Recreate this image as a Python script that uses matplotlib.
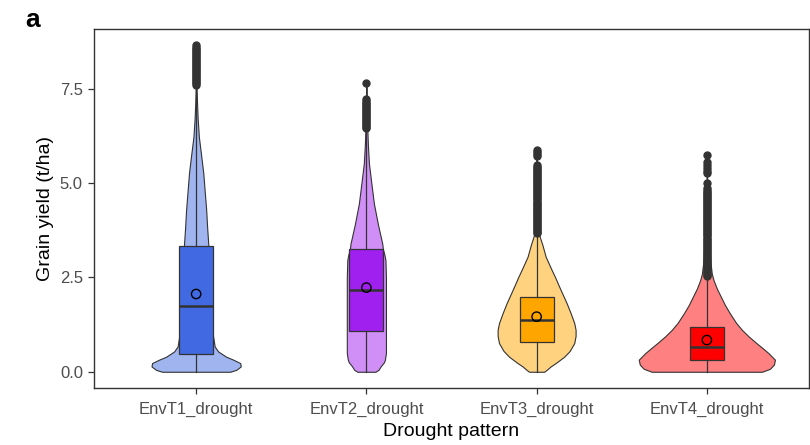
import matplotlib
matplotlib.use("Agg")
import matplotlib.pyplot as plt
import numpy as np

plt.rcParams['font.family'] = ['Liberation Sans', 'DejaVu Sans']

# ---------------- data ----------------
categories = ["EnvT1_drought", "EnvT2_drought", "EnvT3_drought", "EnvT4_drought"]
box_colors = ["#4169E1", "#A020F0", "#FFA500", "#FF0000"]
violin_colors = ["#A0B4F0", "#CF8FF7", "#FFD280", "#FF8080"]

# box statistics (t/ha)
q1 = [0.47, 1.07, 0.80, 0.30]
median = [1.74, 2.16, 1.36, 0.66]
q3 = [3.33, 3.25, 1.99, 1.18]
whisker_low = [0.0, 0.0, 0.0, 0.0]
whisker_high = [7.55, 6.38, 3.62, 2.50]
means = [2.06, 2.23, 1.46, 0.84]

# outliers
outliers_t1 = [7.60, 7.64, 7.68, 7.72, 7.76, 7.80, 7.84, 7.88, 7.92, 7.96, 8.00,
               8.04, 8.08, 8.12, 8.16, 8.20, 8.24, 8.28, 8.32, 8.36, 8.40, 8.44,
               8.48, 8.52, 8.56, 8.60, 8.65]
outliers_t2 = [6.45, 6.49, 6.53, 6.57, 6.61, 6.65, 6.69, 6.73, 6.77, 6.81, 6.85,
               6.89, 6.93, 6.97, 7.01, 7.05, 7.09, 7.13, 7.17, 7.22, 7.65]
outliers_t3 = [3.67, 3.71, 3.75, 3.79, 3.83, 3.87, 3.91, 3.95, 3.99, 4.03, 4.07,
               4.11, 4.15, 4.19, 4.23, 4.27, 4.31, 4.35, 4.39, 4.43, 4.47, 4.51,
               4.55, 4.59, 4.63, 4.67, 4.71, 4.75, 4.79, 4.83, 4.87, 4.91, 4.95,
               4.99, 5.03, 5.07, 5.11, 5.15, 5.19, 5.23, 5.27, 5.31, 5.35, 5.39,
               5.43, 5.48, 5.71, 5.77, 5.83, 5.88]
outliers_t4 = [2.53, 2.57, 2.61, 2.65, 2.69, 2.73, 2.77, 2.81, 2.85, 2.89, 2.93,
               2.97, 3.01, 3.05, 3.09, 3.13, 3.17, 3.21, 3.25, 3.29, 3.33, 3.37,
               3.41, 3.45, 3.49, 3.53, 3.57, 3.61, 3.65, 3.69, 3.73, 3.77, 3.81,
               3.85, 3.89, 3.93, 3.97, 4.01, 4.05, 4.09, 4.13, 4.17, 4.21, 4.25,
               4.29, 4.33, 4.37, 4.41, 4.45, 4.49, 4.53, 4.57, 4.61, 4.65, 4.69,
               4.73, 4.77, 4.81, 4.86, 4.99, 5.26, 5.33, 5.40, 5.48, 5.56, 5.74]
outliers = [outliers_t1, outliers_t2, outliers_t3, outliers_t4]

# violin outlines: grain-yield levels and half-widths (in category-axis units)
violin_y_t1 = [0.00, 0.05, 0.14, 0.23, 0.32, 0.40, 0.54, 0.67, 1.00, 1.50, 2.00,
               2.50, 3.00, 3.33, 3.80, 4.29, 4.80, 5.26, 5.75, 6.22, 6.70, 7.15,
               7.60, 8.10, 8.65]
violin_w_t1 = [0.200, 0.235, 0.262, 0.259, 0.218, 0.176, 0.129, 0.109, 0.097,
               0.088, 0.082, 0.079, 0.075, 0.072, 0.065, 0.059, 0.050, 0.042,
               0.029, 0.016, 0.009, 0.005, 0.002, 0.001, 0.0005]
violin_y_t2 = [0.00, 0.05, 0.15, 0.25, 0.32, 0.50, 1.00, 1.50, 2.00, 2.50, 2.96,
               3.10, 3.25, 3.40, 3.90, 4.46, 5.00, 5.52, 6.00, 6.50, 7.00, 7.65]
violin_w_t2 = [0.053, 0.071, 0.085, 0.103, 0.109, 0.115, 0.115, 0.115, 0.115,
               0.115, 0.112, 0.106, 0.097, 0.093, 0.068, 0.044, 0.029, 0.015,
               0.009, 0.005, 0.002, 0.0005]
violin_y_t3 = [0.00, 0.05, 0.14, 0.25, 0.40, 0.55, 0.76, 0.95, 1.11, 1.29, 1.55,
               1.82, 2.05, 2.26, 2.50, 2.70, 2.90, 3.05, 3.36, 3.58, 3.80, 4.20,
               4.80, 5.88]
violin_w_t3 = [0.044, 0.059, 0.082, 0.118, 0.162, 0.194, 0.221, 0.229, 0.229,
               0.221, 0.200, 0.176, 0.153, 0.132, 0.109, 0.088, 0.068, 0.053,
               0.034, 0.018, 0.009, 0.005, 0.002, 0.0005]
violin_y_t4 = [0.00, 0.08, 0.19, 0.32, 0.49, 0.62, 0.76, 0.93, 1.11, 1.30, 1.55,
               1.77, 1.99, 2.20, 2.43, 2.60, 2.90, 3.50, 4.20, 5.00, 5.74]
violin_w_t4 = [0.324, 0.371, 0.394, 0.400, 0.363, 0.329, 0.291, 0.247, 0.206,
               0.171, 0.135, 0.106, 0.082, 0.059, 0.039, 0.029, 0.021, 0.012,
               0.006, 0.002, 0.0005]
violin_y = [violin_y_t1, violin_y_t2, violin_y_t3, violin_y_t4]
violin_w = [violin_w_t1, violin_w_t2, violin_w_t3, violin_w_t4]

y_ticks = [0.0, 2.5, 5.0, 7.5]
y_tick_labels = ["0.0", "2.5", "5.0", "7.5"]

# ---------------- plot ----------------
fig = plt.figure(figsize=(8.1, 4.45), dpi=100)
ax = fig.add_axes([94 / 810, 1 - 388 / 445, (809 - 94) / 810, (388 - 29) / 445])

dark = "#333333"
positions = np.arange(1, len(categories) + 1)

for i, pos in enumerate(positions):
    yv = np.array(violin_y[i])
    wv = np.array(violin_w[i])
    ax.fill_betweenx(yv, pos - wv, pos + wv, facecolor=violin_colors[i],
                     edgecolor=dark, linewidth=0.8, zorder=1)

stats = []
for i in range(len(categories)):
    stats.append({
        "med": median[i], "q1": q1[i], "q3": q3[i],
        "whislo": whisker_low[i], "whishi": whisker_high[i],
        "fliers": outliers[i], "label": categories[i],
    })

bp = ax.bxp(stats, positions=positions, widths=0.2, showcaps=False,
            patch_artist=True, manage_ticks=False,
            boxprops=dict(edgecolor=dark, linewidth=0.9),
            medianprops=dict(color=dark, linewidth=1.8),
            whiskerprops=dict(color=dark, linewidth=0.9),
            flierprops=dict(marker="o", markerfacecolor=dark, markeredgecolor=dark,
                            markersize=5, linestyle="none"),
            zorder=2)
for patch, c in zip(bp["boxes"], box_colors):
    patch.set_facecolor(c)

ax.scatter(positions, means, s=45, facecolors="none", edgecolors="black",
           linewidths=1.0, zorder=4)

ax.set_xlim(0.4, 4.6)
ax.set_ylim(-0.43, 9.08)
ax.set_xticks(positions)
ax.set_xticklabels(categories)
ax.set_yticks(y_ticks)
ax.set_yticklabels(y_tick_labels)
ax.tick_params(axis="both", colors=dark, labelcolor="#4D4D4D", labelsize=12,
               length=4, width=0.9)
ax.tick_params(axis="x", pad=6)
ax.tick_params(axis="y", pad=4)
for sp in ax.spines.values():
    sp.set_color(dark)
    sp.set_linewidth(1.0)

ax.set_xlabel("Drought pattern", fontsize=14, color="black", labelpad=4)
ax.set_ylabel("Grain yield (t/ha)", fontsize=14, color="black", labelpad=4)

fig.text(25 / 810, 1 - 27 / 445, "a", fontsize=19, fontweight="bold",
         ha="left", va="baseline")

fig.savefig("out.png", dpi=100)
